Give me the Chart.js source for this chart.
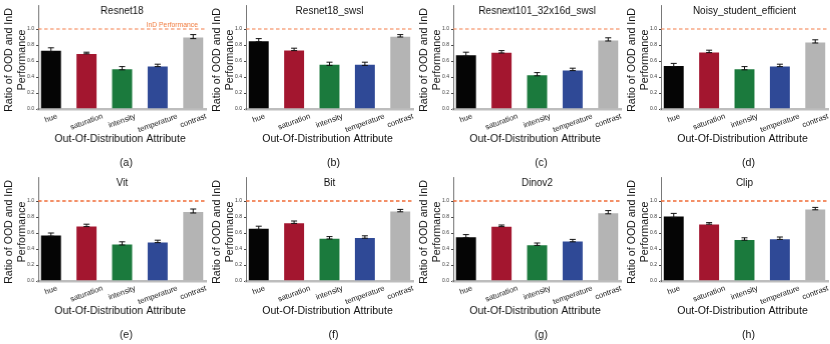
<!DOCTYPE html>
<html>
<head>
<meta charset="utf-8">
<script src="https://cdn.jsdelivr.net/npm/chart.js@4"></script>
<style>
  body { margin: 0; background: #fff; }
  #wrap { position: relative; width: 830px; height: 344px; }
  .panel { position: absolute; width: 207.5px; height: 172px; }
</style>
</head>
<body>
<div id="wrap"></div>
<script>
const attributes = ['hue', 'saturation', 'intensity', 'temperature', 'contrast'];
const models = ['Resnet18', 'Resnet18_swsl', 'Resnext101_32x16d_swsl', 'Noisy_student_efficient',
                'Vit', 'Bit', 'Dinov2', 'Clip'];
const captions = ['(a)', '(b)', '(c)', '(d)', '(e)', '(f)', '(g)', '(h)'];

// ratio of OOD / InD performance per attribute
const resnet18 = [0.74, 0.70, 0.51, 0.545, 0.905];
const resnet18Swsl = [0.86, 0.745, 0.565, 0.565, 0.915];
const resnext101 = [0.685, 0.715, 0.435, 0.495, 0.87];
const noisyStudent = [0.55, 0.72, 0.51, 0.545, 0.845];
const vit = [0.58, 0.695, 0.47, 0.495, 0.875];
const bit = [0.665, 0.735, 0.54, 0.55, 0.88];
const dinov2 = [0.56, 0.69, 0.46, 0.505, 0.86];
const clip = [0.82, 0.72, 0.525, 0.535, 0.905];

// half widths of the error bars
const resnet18Err = [0.025, 0.01, 0.02, 0.015, 0.025];
const resnet18SwslErr = [0.02, 0.015, 0.02, 0.02, 0.015];
const resnext101Err = [0.025, 0.015, 0.02, 0.015, 0.02];
const noisyStudentErr = [0.02, 0.015, 0.02, 0.015, 0.02];
const vitErr = [0.02, 0.015, 0.02, 0.015, 0.025];
const bitErr = [0.02, 0.015, 0.015, 0.015, 0.015];
const dinov2Err = [0.02, 0.01, 0.015, 0.015, 0.02];
const clipErr = [0.025, 0.01, 0.015, 0.015, 0.015];

const yTicks = [0, 0.2, 0.4, 0.6, 0.8, 1.0];
const indLevel = 1.0;

const allValues = [resnet18, resnet18Swsl, resnext101, noisyStudent, vit, bit, dinov2, clip];
const allErrors = [resnet18Err, resnet18SwslErr, resnext101Err, noisyStudentErr, vitErr, bitErr, dinov2Err, clipErr];
const barColors = ['#050505', '#a3162f', '#1b7a3d', '#2f4996', '#b4b4b4'];

const FONT = '"Liberation Sans", Arial, Helvetica, sans-serif';

const decor = {
  id: 'decor',
  afterDatasetsDraw(chart, args, opts) {
    const ctx = chart.ctx;
    const x = chart.scales.x, y = chart.scales.y;
    const area = chart.chartArea;
    ctx.save();
    // error bars
    ctx.strokeStyle = '#111';
    ctx.lineWidth = 1;
    const vals = chart.data.datasets[0].data;
    vals.forEach((p, i) => {
      const px = x.getPixelForValue(p.x);
      const lo = y.getPixelForValue(p.y - opts.errors[i]);
      const hi = y.getPixelForValue(p.y + opts.errors[i]);
      ctx.beginPath();
      ctx.moveTo(px, lo); ctx.lineTo(px, hi);
      ctx.moveTo(px - 3, lo); ctx.lineTo(px + 3, lo);
      ctx.moveTo(px - 3, hi); ctx.lineTo(px + 3, hi);
      ctx.stroke();
    });
    // InD reference line
    const ly = y.getPixelForValue(indLevel);
    ctx.strokeStyle = opts.lineColor;
    ctx.lineWidth = 1.3;
    ctx.setLineDash([3.5, 2.5]);
    ctx.beginPath();
    ctx.moveTo(area.left, ly); ctx.lineTo(area.right, ly);
    ctx.stroke();
    ctx.setLineDash([]);
    if (opts.showLabel) {
      ctx.fillStyle = '#f07a3c';
      ctx.font = '6.8px ' + FONT;
      ctx.textAlign = 'right';
      ctx.textBaseline = 'bottom';
      ctx.fillText('InD Performance', area.right - 8, ly - 0.5);
    }
    ctx.restore();
  },
  afterDraw(chart, args, opts) {
    const ctx = chart.ctx;
    const x = chart.scales.x;
    const area = chart.chartArea;
    const cx = (area.left + area.right) / 2;
    ctx.save();
    ctx.fillStyle = '#111';
    // panel title
    ctx.font = '10px ' + FONT;
    ctx.textAlign = 'center';
    ctx.textBaseline = 'middle';
    ctx.fillText(opts.title, cx, area.top + 6);
    // rotated category labels
    const ang = 20 * Math.PI / 180;
    const fs = 7.7;
    ctx.font = fs + 'px ' + FONT;
    attributes.forEach((name, i) => {
      const w = ctx.measureText(name).width;
      const h = w * Math.sin(ang) + fs * Math.cos(ang);
      ctx.save();
      ctx.translate(x.getPixelForValue(i), area.bottom + 3.5 + h / 2);
      ctx.rotate(-ang);
      ctx.fillText(name, 0, 0);
      ctx.restore();
    });
    // axis titles and caption
    ctx.font = '10.6px ' + FONT;
    ctx.fillText('Out-Of-Distribution Attribute', cx - 2, area.bottom + 30);
    ctx.fillText(opts.caption, cx + 4, area.bottom + 54);
    ctx.save();
    ctx.translate(0, (area.top + area.bottom) / 2 + 3);
    ctx.rotate(-Math.PI / 2);
    ctx.fillText('Ratio of OOD and InD', 0, 9);
    ctx.fillText('Performance', 0, 22);
    ctx.restore();
    ctx.restore();
  }
};

const wrap = document.getElementById('wrap');
models.forEach((model, k) => {
  const col = k % 4, row = Math.floor(k / 4);
  const div = document.createElement('div');
  div.className = 'panel';
  div.style.left = (col * 207.5) + 'px';
  div.style.top = (row * 172) + 'px';
  const canvas = document.createElement('canvas');
  div.appendChild(canvas);
  wrap.appendChild(div);

  new Chart(canvas.getContext('2d'), {
    type: 'bar',
    data: {
      datasets: [{
        data: allValues[k].map((v, i) => ({ x: i, y: v })),
        backgroundColor: barColors,
        borderColor: 'rgba(255,255,255,0.35)',
        borderWidth: 1,
        barPercentage: 0.62,
        categoryPercentage: 1.0
      }]
    },
    options: {
      responsive: true,
      maintainAspectRatio: false,
      animation: false,
      layout: { padding: { left: 0, right: 2.5, top: 3, bottom: 63 } },
      plugins: {
        legend: { display: false },
        tooltip: { enabled: false },
        decor: {
          title: model,
          caption: captions[k],
          errors: allErrors[k],
          lineColor: row === 0 ? 'rgba(242,130,80,0.7)' : '#ef6b36',
          showLabel: k === 0
        }
      },
      scales: {
        x: {
          type: 'linear',
          offset: false,
          min: -0.36,
          max: 4.36,
          afterBuildTicks(scale) { scale.ticks = attributes.map((a, i) => ({ value: i })); },
          afterFit(scale) { scale.height = 0; },
          ticks: { display: false },
          grid: { display: false, drawTicks: false, offset: false },
          border: { display: true, color: '#bdbdbd', width: 2.5 }
        },
        y: {
          min: 0,
          max: 1.3,
          afterBuildTicks(scale) { scale.ticks = yTicks.map(v => ({ value: v })); },
          afterFit(scale) { scale.width = 38; },
          ticks: {
            color: '#333',
            font: { size: 5, family: FONT },
            padding: 2,
            callback: v => v.toFixed(1)
          },
          grid: { drawOnChartArea: false, drawTicks: true, tickLength: 2, color: '#444' },
          border: { display: true, color: '#555', width: 0.8 }
        }
      }
    },
    plugins: [decor]
  });
});
</script>
</body>
</html>
